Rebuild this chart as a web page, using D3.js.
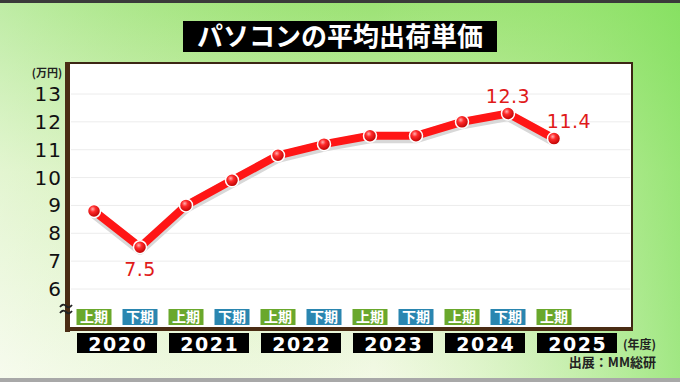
<!DOCTYPE html>
<html lang="ja">
<head>
  <meta charset="UTF-8">
  <title>パソコンの平均出荷単価</title>
  <script src="https://d3js.org/d3.v7.min.js"></script>
  <style>
    body { margin: 0; overflow: hidden; }
    svg { display: block; }
    .tick-label { font-family: 'DejaVu Sans', sans-serif; font-size: 20px; letter-spacing: 1px; fill: #111; text-anchor: end; }
    .year { font-family: 'DejaVu Sans', sans-serif; font-weight: bold; font-size: 19px; letter-spacing: 1.5px; fill: #fff; text-anchor: middle; }
    .half { font-family: 'Noto Sans CJK JP', sans-serif; font-weight: bold; font-size: 14px; fill: #fff; text-anchor: middle; }
    .val { font-family: 'DejaVu Sans', sans-serif; font-size: 19px; letter-spacing: 0.5px; fill: #e01a1a; text-anchor: middle; }
    .note { font-family: 'Noto Sans CJK JP', sans-serif; font-weight: bold; fill: #222; }
  </style>
</head>
<body>
<div id="chart"></div>
<script>
  // data
  const years = ['2020', '2021', '2022', '2023', '2024', '2025'];
  const halves = ['上期', '下期', '上期', '下期', '上期', '下期', '上期', '下期', '上期', '下期', '上期'];
  const values = [8.8, 7.5, 9.0, 9.9, 10.8, 11.2, 11.5, 11.5, 12.0, 12.3, 11.4];
  const yTicks = [6, 7, 8, 9, 10, 11, 12, 13];
  const labeled = [1, 9, 10]; // points that carry a value label

  const width = 680, height = 382;
  const svg = d3.select('#chart').append('svg')
    .attr('width', width)
    .attr('height', height);

  const defs = svg.append('defs');

  // background gradients
  const bgV = defs.append('linearGradient').attr('id', 'bgV')
    .attr('x1', 0).attr('y1', 0).attr('x2', 0).attr('y2', 1);
  bgV.append('stop').attr('offset', '0%').attr('stop-color', '#9be274');
  bgV.append('stop').attr('offset', '45%').attr('stop-color', '#d4f0b8');
  bgV.append('stop').attr('offset', '100%').attr('stop-color', '#f3f9e6');

  const bgH = defs.append('linearGradient').attr('id', 'bgH')
    .attr('x1', 0).attr('y1', 0).attr('x2', 1).attr('y2', 0);
  bgH.append('stop').attr('offset', '0%').attr('stop-color', '#fff').attr('stop-opacity', 0.35);
  bgH.append('stop').attr('offset', '55%').attr('stop-color', '#b8ec90').attr('stop-opacity', 0);
  bgH.append('stop').attr('offset', '100%').attr('stop-color', '#7ee05a').attr('stop-opacity', 0.7);

  const ball = defs.append('radialGradient').attr('id', 'ball')
    .attr('cx', '40%').attr('cy', '35%').attr('r', '65%');
  ball.append('stop').attr('offset', '0%').attr('stop-color', '#ffb0b0');
  ball.append('stop').attr('offset', '35%').attr('stop-color', '#ff2a2a');
  ball.append('stop').attr('offset', '100%').attr('stop-color', '#b80000');

  svg.append('rect').attr('width', width).attr('height', height).attr('fill', 'url(#bgV)');
  svg.append('rect').attr('width', width).attr('height', height).attr('fill', 'url(#bgH)');
  svg.append('rect').attr('width', width).attr('height', 3).attr('fill', '#3a3a3a');
  svg.append('rect').attr('y', 378).attr('width', width).attr('height', 4).attr('fill', '#a8a8a8');

  // title
  svg.append('rect').attr('x', 183).attr('y', 21).attr('width', 314).attr('height', 31).attr('fill', '#000');
  svg.append('text')
    .attr('x', 340).attr('y', 46)
    .attr('text-anchor', 'middle')
    .style('font-family', "'Noto Sans CJK JP', sans-serif")
    .style('font-weight', 'bold')
    .style('font-size', '26px')
    .attr('fill', '#fff')
    .text('パソコンの平均出荷単価');

  // scales
  const x = d3.scaleLinear().domain([0, values.length - 1]).range([94, 554]);
  const y = d3.scaleLinear().domain([6, 13]).range([289, 94]);

  // plot frame
  const fx0 = 68, fx1 = 632, fy0 = 63, fy1 = 329;
  svg.append('rect')
    .attr('x', fx0).attr('y', fy0).attr('width', fx1 - fx0).attr('height', fy1 - fy0)
    .attr('fill', '#fff').attr('stroke', '#3c2614').attr('stroke-width', 2);
  svg.append('rect').attr('x', fx0 - 3).attr('y', fy0 - 1).attr('width', 5).attr('height', fy1 - fy0 + 4).attr('fill', '#4a2c14');
  svg.append('rect').attr('x', fx0 - 3).attr('y', fy1 - 2).attr('width', fx1 - fx0 + 4).attr('height', 4).attr('fill', '#4a2c14');

  // grid
  svg.selectAll('.grid')
    .data(yTicks)
    .enter().append('line')
    .attr('x1', fx0 + 3).attr('x2', fx1 - 2)
    .attr('y1', d => y(d)).attr('y2', d => y(d))
    .attr('stroke', '#ececec').attr('stroke-width', 1);

  // y tick labels
  svg.selectAll('.tick-label')
    .data(yTicks)
    .enter().append('text')
    .attr('class', 'tick-label')
    .attr('x', 62)
    .attr('y', d => y(d) + 7)
    .text(d => d);

  svg.append('text').attr('class', 'note')
    .attr('x', 47).attr('y', 77).attr('text-anchor', 'middle')
    .style('font-size', '11px')
    .text('(万円)');

  // axis break mark (two small waves)
  const brk = svg.append('g').attr('fill', 'none').attr('stroke', '#222').attr('stroke-width', 1.8);
  [306, 312].forEach(yy => {
    brk.append('path').attr('d', `M60,${yy + 1} q3,-4 6,-1 t6,-1`);
  });

  // half-year labels
  const halfG = svg.selectAll('.halfg')
    .data(halves)
    .enter().append('g')
    .attr('transform', (d, i) => `translate(${x(i)},317)`);
  halfG.append('rect')
    .attr('x', -17.5).attr('y', -8).attr('width', 35).attr('height', 16)
    .attr('fill', d => d === '上期' ? '#6aa82c' : '#2a86b0');
  halfG.append('text').attr('class', 'half')
    .attr('y', 5)
    .text(d => d);

  // year labels
  const yearG = svg.selectAll('.yearg')
    .data(years)
    .enter().append('g')
    .attr('transform', (d, i) => `translate(${x(i * 2 + 0.5)},343)`);
  yearG.append('rect')
    .attr('x', -40).attr('y', -10).attr('width', 80).attr('height', 20)
    .attr('fill', '#000');
  yearG.append('text').attr('class', 'year')
    .attr('x', 0.75)
    .attr('y', 7.5)
    .text(d => d);

  svg.append('text').attr('class', 'note')
    .attr('x', 656).attr('y', 349).attr('text-anchor', 'end')
    .style('font-size', '12px')
    .text('(年度)');
  svg.append('text').attr('class', 'note')
    .attr('x', 656).attr('y', 367).attr('text-anchor', 'end')
    .style('font-size', '13px')
    .text('出展：MM総研');

  // line
  const line = d3.line()
    .x((d, i) => x(i))
    .y(d => y(d));

  svg.append('path')
    .datum(values)
    .attr('d', line)
    .attr('transform', 'translate(0,2)')
    .attr('fill', 'none')
    .attr('stroke', '#d8d8d8')
    .attr('stroke-width', 11)
    .attr('stroke-linejoin', 'round');

  svg.append('path')
    .datum(values)
    .attr('d', line)
    .attr('fill', 'none')
    .attr('stroke', '#ff1616')
    .attr('stroke-width', 8)
    .attr('stroke-linejoin', 'round');

  svg.selectAll('.pt')
    .data(values)
    .enter().append('circle')
    .attr('cx', (d, i) => x(i))
    .attr('cy', d => y(d))
    .attr('r', 6.5)
    .attr('fill', 'url(#ball)')
    .attr('stroke', '#fff')
    .attr('stroke-width', 1.5);

  // value labels
  const fmt = d3.format('.1f');
  const labelOffset = { 1: [0, 29], 9: [0, -11], 10: [15, -11] };
  svg.selectAll('.val')
    .data(labeled)
    .enter().append('text')
    .attr('class', 'val')
    .attr('x', i => x(i) + labelOffset[i][0])
    .attr('y', i => y(values[i]) + labelOffset[i][1])
    .text(i => fmt(values[i]));
</script>
</body>
</html>
